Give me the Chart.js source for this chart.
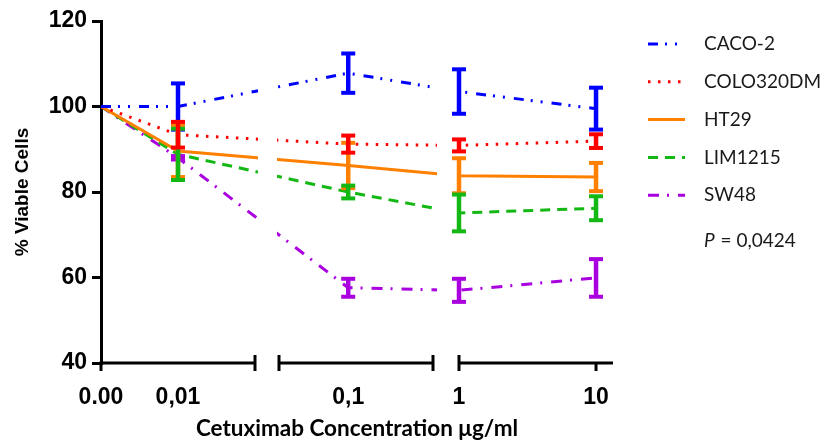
<!DOCTYPE html>
<html>
<head>
<meta charset="utf-8">
<script src="https://cdn.jsdelivr.net/npm/chart.js@4.4.0/dist/chart.umd.min.js"></script>
<style>
  html, body { margin: 0; padding: 0; background: #fff; }
</style>
</head>
<body>
<canvas id="grafico" width="831" height="441"></canvas>
<script>
// concentraciones (ug/ml) y etiquetas del eje x
const concentraciones = [0, 0.01, 0.1, 1, 10];
const etiquetasX = ["0.00", "0,01", "0,1", "1", "10"];

// % de células viables (media) y error por línea celular
const caco2 = [100, 100.0, 107.8, 103.5, 99.5];
const caco2Err = [0, 5.4, 4.6, 5.2, 4.9];
const colo320dm = [100, 93.4, 91.2, 90.9, 91.9];
const colo320dmErr = [0, 3.0, 2.0, 1.4, 1.6];
const ht29 = [100, 89.6, 86.2, 83.8, 83.5];
const ht29Err = [0, 6.1, 5.3, 4.1, 3.3];
const lim1215 = [100, 88.8, 80.0, 75.1, 76.2];
const lim1215Err = [0, 6.0, 1.5, 4.3, 2.8];
const sw48 = [100, 88.0, 57.6, 57.0, 59.9];
const sw48Err = [0, 0.4, 2.1, 2.7, 4.4];

const valorP = "0,0424";

// eje x cortado: un tramo lineal y dos logarítmicos
const segmentos = [
  { tipo: "lin", min: 0, max: 0.02 },
  { tipo: "log", min: 0.0316, max: 0.41 },
  { tipo: "log", min: 1, max: 13.3 }
];
const LARGO_SEG = 154;
const inicios = [0, 178, 358];

function posX(c) {
  for (let i = 0; i < segmentos.length; i++) {
    const s = segmentos[i];
    if (c <= s.max) {
      const f = s.tipo === "lin"
        ? (c - s.min) / (s.max - s.min)
        : (Math.log10(c) - Math.log10(s.min)) / (Math.log10(s.max) - Math.log10(s.min));
      return inicios[i] + f * LARGO_SEG;
    }
  }
}

function puntos(serie) {
  return concentraciones.map((c, i) => ({ x: posX(c), y: serie[i] }));
}

function linea(ctx, x1, y1, x2, y2) {
  ctx.beginPath();
  ctx.moveTo(x1, y1);
  ctx.lineTo(x2, y2);
  ctx.stroke();
}

// orden en que se pintan las barras de error (las últimas quedan encima)
const ordenBarras = [0, 4, 2, 3, 1];

const barrasError = {
  id: "barrasError",
  afterDatasetsDraw(chart) {
    const { ctx, chartArea, scales: { x, y } } = chart;
    ctx.save();
    // tapar las líneas en los cortes del eje
    ctx.fillStyle = "#fff";
    const cortes = [
      [x.getPixelForValue(inicios[0] + LARGO_SEG) + 3, x.getPixelForValue(inicios[1]) - 2],
      [x.getPixelForValue(inicios[1] + LARGO_SEG) + 4, x.getPixelForValue(inicios[2]) - 2]
    ];
    cortes.forEach(([a, b]) => ctx.fillRect(a, chartArea.top - 10, b - a, chartArea.bottom - chartArea.top + 8));

    ctx.lineCap = "butt";
    ordenBarras.forEach(i => {
      const ds = chart.data.datasets[i];
      ctx.strokeStyle = ds.borderColor;
      ds.errores.forEach((e, j) => {
        if (!e) return;
        const p = ds.data[j];
        const px = x.getPixelForValue(p.x);
        const arriba = y.getPixelForValue(p.y + e);
        const abajo = y.getPixelForValue(p.y - e);
        ctx.lineWidth = 4.5;
        linea(ctx, px, arriba, px, abajo);
        ctx.lineWidth = 4;
        linea(ctx, px - 7, arriba, px + 7, arriba);
        linea(ctx, px - 7, abajo, px + 7, abajo);
      });
    });
    ctx.restore();
  }
};

const ejeCortado = {
  id: "ejeCortado",
  afterDraw(chart) {
    const { ctx, chartArea, scales: { x } } = chart;
    const yEje = chartArea.bottom;
    ctx.save();
    ctx.strokeStyle = "#000";
    ctx.lineWidth = 3;
    ctx.lineCap = "butt";
    segmentos.forEach((s, i) => {
      const a = x.getPixelForValue(inicios[i]);
      const b = x.getPixelForValue(inicios[i] + LARGO_SEG);
      linea(ctx, i === 0 ? a - 1.5 : a, yEje, b, yEje);
      if (i > 0) linea(ctx, a, yEje - 8, a, yEje + 8);
      if (i < segmentos.length - 1) linea(ctx, b, yEje - 8, b, yEje + 8);
    });
    [0, 10].forEach(c => {
      const px = x.getPixelForValue(posX(c));
      linea(ctx, px, yEje, px, yEje + 8);
    });
    ctx.restore();
  }
};

const leyenda = {
  id: "leyenda",
  afterDraw(chart) {
    const { ctx } = chart;
    ctx.save();
    ctx.textBaseline = "middle";
    ctx.font = "19px Lato";
    chart.data.datasets.forEach((ds, i) => {
      const yy = 44 + i * 37.8;
      ctx.strokeStyle = ds.borderColor;
      ctx.lineWidth = 3;
      ctx.setLineDash(ds.borderDash || []);
      linea(ctx, 648, yy, 685, yy);
      ctx.setLineDash([]);
      ctx.fillStyle = "#1a1a1a";
      ctx.fillText(ds.label, 704, yy);
    });
    ctx.font = "italic 19px Lato";
    ctx.fillText("P", 704, 241);
    const w = ctx.measureText("P").width;
    ctx.font = "19px Lato";
    ctx.fillText(" = " + valorP, 704 + w + 1, 241);
    ctx.restore();
  }
};

const ctx = document.getElementById("grafico").getContext("2d");
new Chart(ctx, {
  type: "line",
  data: {
    datasets: [
      { label: "CACO-2", data: puntos(caco2), errores: caco2Err, borderColor: "#0000ff", borderDash: [10, 7, 2, 8, 2, 9] },
      { label: "COLO320DM", data: puntos(colo320dm), errores: colo320dmErr, borderColor: "#ff0000", borderDash: [2.5, 7.5] },
      { label: "HT29", data: puntos(ht29), errores: ht29Err, borderColor: "#ff8000", borderDash: [] },
      { label: "LIM1215", data: puntos(lim1215), errores: lim1215Err, borderColor: "#14b814", borderDash: [10, 7] },
      { label: "SW48", data: puntos(sw48), errores: sw48Err, borderColor: "#aa00e0", borderDash: [11, 8, 2, 9] }
    ]
  },
  options: {
    responsive: false,
    animation: false,
    layout: { padding: { top: 21, right: 218, left: 0, bottom: 0 } },
    elements: {
      line: { borderWidth: 3, tension: 0, fill: false },
      point: { radius: 0, hoverRadius: 0 }
    },
    plugins: {
      legend: { display: false },
      tooltip: { enabled: false }
    },
    scales: {
      x: {
        type: "linear",
        min: 0,
        max: inicios[2] + LARGO_SEG,
        grid: { display: false },
        border: { display: false },
        afterBuildTicks: scale => {
          scale.ticks = concentraciones.map(c => ({ value: posX(c) }));
        },
        afterFit: scale => { scale.height = 78; },
        ticks: {
          autoSkip: false,
          maxRotation: 0,
          padding: 13,
          color: "#000",
          font: { family: "'Liberation Sans', Arial, sans-serif", size: 23, weight: "bold" },
          callback: (v, i) => etiquetasX[i]
        },
        title: {
          display: true,
          text: "Cetuximab Concentration μg/ml",
          color: "#000",
          font: { family: "Lato", size: 22.5, weight: "bold", lineHeight: 1 },
          padding: { top: 0, bottom: 1.5 }
        }
      },
      y: {
        min: 40,
        max: 120,
        afterFit: scale => { scale.width = 101; },
        grid: { drawOnChartArea: false, drawTicks: true, tickLength: 9, lineWidth: 3, color: "#000" },
        border: { display: true, width: 3, color: "#000" },
        ticks: {
          stepSize: 20,
          padding: 5,
          color: "#000",
          font: { family: "'Liberation Sans', Arial, sans-serif", size: 23, weight: "bold" }
        },
        title: {
          display: true,
          text: "% Viable Cells",
          color: "#000",
          font: { family: "'Liberation Sans', Arial, sans-serif", size: 19, weight: "bold" },
          padding: { top: 11, bottom: 0 }
        }
      }
    }
  },
  plugins: [barrasError, ejeCortado, leyenda]
});
</script>
</body>
</html>
